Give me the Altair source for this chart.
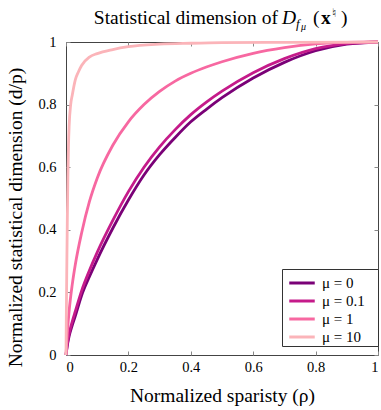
import altair as alt
import pandas as pd

# ---- data ----
series_labels = ["μ = 0", "μ = 0.1", "μ = 1", "μ = 10"]
series_colors = ["#7a0177", "#c51b8a", "#f768a1", "#fbb4b9"]

rho_grid = [0, 0.005, 0.01, 0.02, 0.03, 0.05, 0.075, 0.1, 0.15, 0.2, 0.25,
            0.3, 0.35, 0.4, 0.45, 0.5, 0.6, 0.7, 0.8, 0.9, 1.0]
d_mu0 = [0, 0.035, 0.06, 0.095, 0.125, 0.19, 0.25, 0.305, 0.405, 0.495, 0.575,
         0.64, 0.695, 0.745, 0.785, 0.822, 0.885, 0.935, 0.972, 0.993, 1.0]
d_mu01 = [0, 0.04, 0.068, 0.107, 0.14, 0.205, 0.27, 0.328, 0.43, 0.522, 0.6,
          0.665, 0.72, 0.768, 0.808, 0.843, 0.902, 0.947, 0.979, 0.995, 1.0]
d_mu1 = [0, 0.08, 0.14, 0.225, 0.29, 0.39, 0.49, 0.565, 0.67, 0.745, 0.8,
         0.842, 0.875, 0.9, 0.92, 0.937, 0.964, 0.982, 0.994, 0.999, 1.0]
rho_mu10 = [0, 0.001, 0.002, 0.003, 0.004, 0.006, 0.008, 0.01, 0.015, 0.02, 0.03,
            0.04, 0.05, 0.075, 0.1, 0.15, 0.2, 0.3, 0.4, 0.5, 0.7, 1.0]
d_mu10 = [0, 0.12, 0.22, 0.32, 0.41, 0.57, 0.67, 0.73, 0.8, 0.83, 0.88,
          0.905, 0.925, 0.952, 0.963, 0.976, 0.985, 0.993, 0.996, 0.998, 0.999, 1.0]

tick_values = [0, 0.2, 0.4, 0.6, 0.8, 1]

rows = []
for lab, xs, ys in [(series_labels[0], rho_grid, d_mu0),
                    (series_labels[1], rho_grid, d_mu01),
                    (series_labels[2], rho_grid, d_mu1),
                    (series_labels[3], rho_mu10, d_mu10)]:
    for i, (a, b) in enumerate(zip(xs, ys)):
        rows.append({"series": lab, "rho": a, "d": b, "i": i})
df = pd.DataFrame(rows)

SERIF = "Liberation Serif"
W, H = 312, 313

xscale = alt.Scale(domain=[0, 1], nice=False)
yscale = alt.Scale(domain=[0, 1], nice=False)

lines = alt.Chart(df).mark_line(strokeWidth=2.8, interpolate="monotone").encode(
    x=alt.X("rho:Q", scale=xscale,
            axis=alt.Axis(orient="bottom", values=tick_values, format="~g",
                          offset=-4, tickSize=4, labelPadding=5, domain=False,
                          grid=False, title="Normalized sparisty (ρ)",
                          titlePadding=13)),
    y=alt.Y("d:Q", scale=yscale,
            axis=alt.Axis(orient="left", values=tick_values, format="~g",
                          offset=-4, tickSize=4, labelPadding=10, domain=False,
                          grid=False, title="Normalized statistical dimension (d/p)",
                          titlePadding=12, titleY=175)),
    color=alt.Color("series:N",
                    scale=alt.Scale(domain=series_labels, range=series_colors),
                    legend=alt.Legend(title=None, orient="none", legendX=222, legendY=231,
                                      symbolType="M-1.5,0L1.5,0", symbolSize=289,
                                      symbolOffset=4,
                                      symbolStrokeWidth=3, labelFont=SERIF,
                                      labelFontSize=15, labelColor="black",
                                      padding=0, rowPadding=0, labelOffset=10)),
    order="i:Q",
)

# legend frame (white box with dark border, as in the reference)
legend_box = alt.Chart(pd.DataFrame({"k": [0]})).mark_rect(
    fill="white", stroke="#333", strokeWidth=1
).encode(x=alt.value(216.5), x2=alt.value(312.5), y=alt.value(227.5), y2=alt.value(304.5))

frame_axes = alt.Chart(df).mark_line(opacity=0).encode(
    x=alt.X("rho:Q", scale=xscale,
            axis=alt.Axis(orient="top", values=tick_values, offset=-4, tickSize=4,
                          labels=False, domain=False, grid=False, title=None)),
    y=alt.Y("d:Q", scale=yscale,
            axis=alt.Axis(orient="right", values=tick_values, offset=-4, tickSize=4,
                          labels=False, domain=False, grid=False, title=None)),
    detail="series:N",
)

one = pd.DataFrame({"k": [0]})


def txt(s, x, y, size, style="normal", weight="normal", font=SERIF, align="left"):
    return alt.Chart(one).mark_text(
        text=s, font=font, fontSize=size, fontStyle=style, fontWeight=weight,
        align=align, baseline="alphabetic", color="black"
    ).encode(x=alt.value(x), y=alt.value(y))


title_layers = [
    txt("Statistical dimension of", 212, -18.5, 19.5, align="right"),
    txt("D", 216, -18.5, 19.5, style="italic"),
    txt("f", 230, -14.5, 13, style="italic"),
    txt("μ", 235, -12, 10, style="italic"),
    txt("(", 247, -18.5, 19.5),
    txt("x", 255, -18.5, 19.5, weight="bold"),
    txt("♮", 266, -25, 12, font="DejaVu Sans"),
    txt(")", 275, -18.5, 19.5),
]

chart = alt.layer(lines, legend_box, frame_axes, *title_layers).resolve_axis(
    x="independent", y="independent"
).properties(
    width=W, height=H,
    background="white",
    autosize=alt.AutoSizeParams(type="none"),
    padding={"left": 66, "top": 42, "right": 3, "bottom": 55},
).configure_view(
    stroke="#444", strokeWidth=1
).configure_axis(
    labelFont=SERIF, labelFontSize=14.5, labelColor="black",
    titleFont=SERIF, titleFontSize=19.5, titleFontWeight="normal", titleColor="black",
    tickColor="#888", tickWidth=1,
)

chart.save("out.html", embed_options={"renderer": "svg", "actions": False})
